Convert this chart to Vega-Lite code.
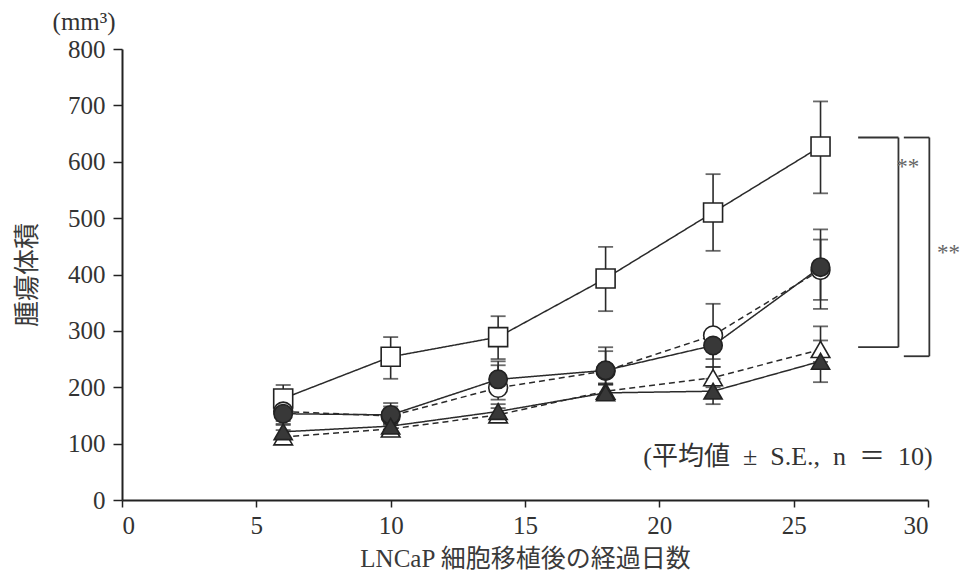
{
  "$schema": "https://vega.github.io/schema/vega-lite/v6.json",
  "width": 806,
  "height": 451,
  "autosize": "none",
  "padding": {"left": 122, "top": 49, "right": 37, "bottom": 87},
  "background": "white",
  "config": {
    "view": {"stroke": null},
    "axis": {
      "grid": false,
      "domainColor": "#222",
      "domainWidth": 2,
      "tickColor": "#222",
      "tickWidth": 1.5,
      "labelFont": "Liberation Serif",
      "labelFontSize": 25,
      "labelColor": "#333",
      "titleFont": "Liberation Serif, Noto Sans CJK JP",
      "titleFontSize": 25,
      "titleFontWeight": "normal",
      "titleColor": "#3a3a3a"
    }
  },
  "datasets": {
    "volume": [
      {"day": 6, "g": "S", "mean": 180, "lo": 158, "up": 204},
      {"day": 10, "g": "S", "mean": 254, "lo": 215, "up": 289},
      {"day": 14, "g": "S", "mean": 289, "lo": 250, "up": 326},
      {"day": 18, "g": "S", "mean": 393, "lo": 335, "up": 449},
      {"day": 22, "g": "S", "mean": 510, "lo": 442, "up": 578},
      {"day": 26, "g": "S", "mean": 627, "lo": 544, "up": 707},
      {"day": 6, "g": "OC", "mean": 157, "lo": 140, "up": 175},
      {"day": 10, "g": "OC", "mean": 149, "lo": 133, "up": 166},
      {"day": 14, "g": "OC", "mean": 199, "lo": 178, "up": 239},
      {"day": 18, "g": "OC", "mean": 229, "lo": 205, "up": 264},
      {"day": 22, "g": "OC", "mean": 292, "lo": 236, "up": 348},
      {"day": 26, "g": "OC", "mean": 408, "lo": 355, "up": 462},
      {"day": 6, "g": "OT", "mean": 112, "lo": 100, "up": 124},
      {"day": 10, "g": "OT", "mean": 126, "lo": 115, "up": 137},
      {"day": 14, "g": "OT", "mean": 151, "lo": 140, "up": 163},
      {"day": 18, "g": "OT", "mean": 193, "lo": 180, "up": 207},
      {"day": 22, "g": "OT", "mean": 217, "lo": 200, "up": 236},
      {"day": 26, "g": "OT", "mean": 267, "lo": 245, "up": 308},
      {"day": 6, "g": "FC", "mean": 153, "lo": 135, "up": 170},
      {"day": 10, "g": "FC", "mean": 151, "lo": 135, "up": 172},
      {"day": 14, "g": "FC", "mean": 214, "lo": 190, "up": 246},
      {"day": 18, "g": "FC", "mean": 230, "lo": 205, "up": 271},
      {"day": 22, "g": "FC", "mean": 274, "lo": 250, "up": 300},
      {"day": 26, "g": "FC", "mean": 413, "lo": 339, "up": 480},
      {"day": 6, "g": "FT", "mean": 121, "lo": 108, "up": 133},
      {"day": 10, "g": "FT", "mean": 131, "lo": 120, "up": 142},
      {"day": 14, "g": "FT", "mean": 157, "lo": 145, "up": 170},
      {"day": 18, "g": "FT", "mean": 190, "lo": 178, "up": 205},
      {"day": 22, "g": "FT", "mean": 193, "lo": 170, "up": 215},
      {"day": 26, "g": "FT", "mean": 246, "lo": 209, "up": 283}
    ],
    "brackets": [
      {"x": 27.4, "y": 643, "x2": 28.9, "y2": 643},
      {"x": 28.9, "y": 643, "x2": 28.9, "y2": 271},
      {"x": 28.9, "y": 271, "x2": 27.4, "y2": 271},
      {"x": 29.1, "y": 643, "x2": 30.05, "y2": 643},
      {"x": 30.05, "y": 643, "x2": 30.05, "y2": 255},
      {"x": 30.05, "y": 255, "x2": 29.1, "y2": 255}
    ],
    "stars": [
      {"x": 29.25, "y": 579, "label": "**"},
      {"x": 30.76, "y": 425, "label": "**"}
    ],
    "notes": [
      {"x": 24.79, "y": 77, "label": "(平均値\u2002±\u2002S.E.,\u2002n\u2002＝\u200210)"}
    ],
    "unit": [
      {"x": -1.41, "y": 848, "label": "(mm³)"}
    ]
  },
  "layer": [
    {
      "data": {"name": "volume"},
      "mark": {"type": "line", "strokeWidth": 1.5, "color": "#2a2a2a"},
      "encoding": {
        "x": {
          "field": "day", "type": "quantitative",
          "scale": {"domain": [0, 30], "nice": false, "zero": true},
          "axis": {
            "values": [0, 5, 10, 15, 20, 25, 30],
            "tickSize": 7, "labelPadding": 6,
            "title": "LNCaP 細胞移植後の経過日数", "titlePadding": 8
          }
        },
        "y": {
          "field": "mean", "type": "quantitative",
          "scale": {"domain": [0, 800], "nice": false},
          "axis": {
            "values": [0, 100, 200, 300, 400, 500, 600, 700, 800],
            "tickSize": 9, "labelPadding": 8,
            "title": "腫瘍体積", "titlePadding": 27, "titleFontSize": 26
          }
        },
        "detail": {"field": "g"},
        "strokeDash": {
          "field": "g", "type": "nominal", "legend": null,
          "scale": {"domain": ["S", "OC", "OT", "FC", "FT"], "range": [[1, 0], [6, 4], [6, 4], [1, 0], [1, 0]]}
        }
      }
    },
    {
      "data": {"name": "volume"},
      "mark": {"type": "rule", "strokeWidth": 1.6, "color": "#2a2a2a"},
      "encoding": {
        "x": {"field": "day", "type": "quantitative"},
        "y": {"field": "lo", "type": "quantitative"},
        "y2": {"field": "up"}
      }
    },
    {
      "data": {"name": "volume"},
      "mark": {"type": "tick", "orient": "horizontal", "size": 15, "thickness": 1.8, "color": "#2a2a2a"},
      "encoding": {
        "x": {"field": "day", "type": "quantitative"},
        "y": {"field": "lo", "type": "quantitative"}
      }
    },
    {
      "data": {"name": "volume"},
      "mark": {"type": "tick", "orient": "horizontal", "size": 15, "thickness": 1.8, "color": "#2a2a2a"},
      "encoding": {
        "x": {"field": "day", "type": "quantitative"},
        "y": {"field": "up", "type": "quantitative"}
      }
    },
    {
      "data": {"name": "volume"},
      "mark": {"type": "point", "filled": true, "stroke": "#222", "strokeWidth": 1.6, "opacity": 1},
      "encoding": {
        "x": {"field": "day", "type": "quantitative"},
        "y": {"field": "mean", "type": "quantitative"},
        "shape": {
          "field": "g", "type": "nominal", "legend": null,
          "scale": {"domain": ["S", "OC", "OT", "FC", "FT"], "range": ["square", "circle", "triangle-up", "circle", "triangle-up"]}
        },
        "fill": {
          "field": "g", "type": "nominal", "legend": null,
          "scale": {"domain": ["S", "OC", "OT", "FC", "FT"], "range": ["#ffffff", "#ffffff", "#ffffff", "#383838", "#383838"]}
        },
        "size": {
          "field": "g", "type": "nominal", "legend": null,
          "scale": {"domain": ["S", "OC", "OT", "FC", "FT"], "range": [361, 330, 420, 330, 420]}
        }
      }
    },
    {
      "data": {"name": "brackets"},
      "mark": {"type": "rule", "strokeWidth": 1.8, "color": "#333"},
      "encoding": {
        "x": {"field": "x", "type": "quantitative"},
        "y": {"field": "y", "type": "quantitative"},
        "x2": {"field": "x2"},
        "y2": {"field": "y2"}
      }
    },
    {
      "data": {"name": "stars"},
      "mark": {"type": "text", "font": "Liberation Serif", "fontSize": 23, "color": "#666", "align": "center", "baseline": "alphabetic"},
      "encoding": {
        "x": {"field": "x", "type": "quantitative"},
        "y": {"field": "y", "type": "quantitative"},
        "text": {"field": "label"}
      }
    },
    {
      "data": {"name": "notes"},
      "mark": {"type": "text", "font": "Liberation Serif, Noto Sans CJK JP", "fontSize": 26, "color": "#333", "align": "center", "baseline": "middle"},
      "encoding": {
        "x": {"field": "x", "type": "quantitative"},
        "y": {"field": "y", "type": "quantitative"},
        "text": {"field": "label"}
      }
    },
    {
      "data": {"name": "unit"},
      "mark": {"type": "text", "font": "Liberation Serif", "fontSize": 25, "color": "#333", "align": "center", "baseline": "middle"},
      "encoding": {
        "x": {"field": "x", "type": "quantitative"},
        "y": {"field": "y", "type": "quantitative"},
        "text": {"field": "label"}
      }
    }
  ]
}
